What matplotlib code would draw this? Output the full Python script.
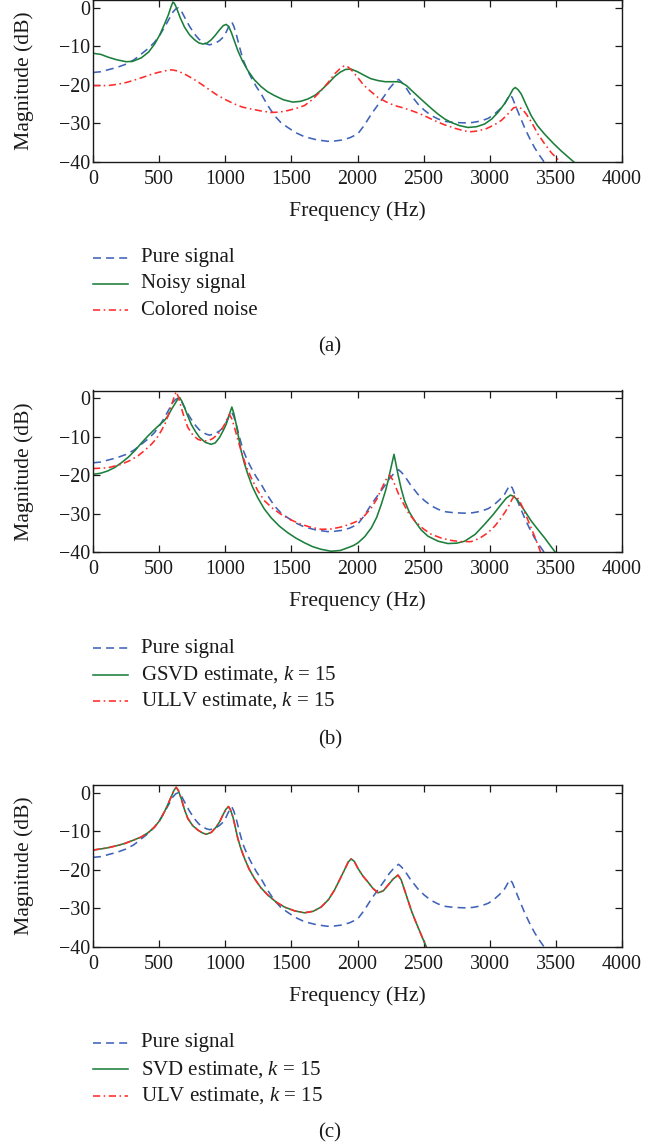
import matplotlib
matplotlib.use("Agg")
import matplotlib.pyplot as plt
from matplotlib.lines import Line2D

plt.rcParams['font.family'] = ['Liberation Serif', 'DejaVu Serif']
plt.rcParams['mathtext.fontset'] = 'custom'
plt.rcParams['mathtext.rm'] = 'Liberation Serif'
plt.rcParams['mathtext.it'] = 'Liberation Serif:italic'
plt.rcParams['axes.unicode_minus'] = True

# ---------------- data ----------------
pure_f = [0, 60, 113, 180, 252, 310, 365, 420, 466, 510, 554, 580, 604, 625, 645, 665, 692, 730,
          768, 800, 830, 860, 881, 920, 957, 985, 1007, 1030, 1050, 1065, 1083, 1105, 1133, 1165,
          1196, 1235, 1272, 1320, 1372, 1420, 1473, 1530, 1599, 1690, 1775, 1830, 1876, 1940, 2001,
          2050, 2105, 2155, 2205, 2240, 2270, 2310, 2330, 2356, 2400, 2457, 2505, 2558, 2610, 2658,
          2730, 2809, 2870, 2935, 2990, 3036, 3075, 3112, 3135, 3150, 3170, 3200, 3230, 3263, 3300,
          3338, 3375, 3414]
pure_db = [-16.8, -16.6, -16.1, -15.5, -14.6, -13.5, -12.0, -10.5, -8.9, -6.8, -4.2, -2.6, -1.1, -0.3, 0.0,
           -0.6, -2.4, -4.8, -6.8, -8.1, -8.9, -9.4, -9.6, -9.3, -8.5, -7.6, -6.3, -4.6, -3.7, -4.8, -6.8,
           -9.8, -13.3, -16.0, -18.1, -20.5, -22.4, -25.3, -28.0, -29.8, -31.1, -32.4, -33.5, -34.3, -34.7,
           -34.6, -34.4, -33.8, -32.8, -30.6, -27.6, -25.2, -22.8, -21.0, -19.8, -18.6, -19.2, -20.2, -22.5,
           -25.0, -26.6, -28.0, -28.9, -29.5, -29.8, -29.9, -29.8, -29.4, -28.7, -27.6, -26.4, -25.0, -23.6,
           -22.6, -23.3, -25.9, -28.4, -31.1, -33.8, -36.3, -38.3, -40.2]

noisy_f = [0, 60, 113, 180, 252, 300, 365, 420, 466, 505, 541, 570, 590, 604, 615, 629, 660, 692,
           730, 768, 800, 831, 860, 894, 925, 957, 985, 1007, 1025, 1045, 1070, 1095, 1130, 1171, 1220,
           1272, 1320, 1372, 1440, 1511, 1570, 1624, 1680, 1725, 1780, 1826, 1870, 1910, 1950, 2000,
           2054, 2100, 2155, 2210, 2256, 2300, 2331, 2370, 2407, 2460, 2508, 2560, 2608, 2660, 2709,
           2770, 2835, 2900, 2961, 3015, 3062, 3110, 3150, 3175, 3193, 3215, 3238, 3275, 3313, 3360,
           3414, 3480, 3540, 3590, 3640]
noisy_db = [-11.8, -12.1, -12.8, -13.5, -14.0, -13.9, -13.0, -11.5, -9.4, -7.0, -4.2, -1.8, 0.3, 1.5, 1.2,
            0.2, -2.6, -5.0, -7.0, -8.3, -9.1, -9.4, -9.2, -8.3, -7.1, -5.7, -4.6, -4.3, -4.8, -6.3, -8.7,
            -11.1, -13.8, -16.3, -18.7, -20.5, -21.8, -22.8, -23.9, -24.5, -24.3, -23.7, -22.7, -21.4,
            -19.6, -17.9, -16.7, -16.0, -15.9, -16.6, -17.6, -18.4, -18.9, -19.2, -19.2, -19.2, -19.4,
            -20.2, -21.4, -23.1, -24.6, -26.2, -27.6, -28.9, -29.8, -30.6, -31.1, -30.9, -30.2, -28.9,
            -27.2, -25.0, -22.8, -21.2, -20.7, -21.3, -22.4, -25.2, -28.0, -30.6, -32.8, -35.2, -37.2,
            -38.7, -40.2]

colored_f = [0, 113, 180, 252, 320, 390, 440, 491, 540, 592, 640, 692, 755, 818, 880, 944, 1010,
             1070, 1130, 1196, 1270, 1347, 1410, 1473, 1540, 1599, 1660, 1725, 1780, 1826, 1865, 1901,
             1930, 1960, 2004, 2040, 2079, 2120, 2155, 2220, 2281, 2345, 2407, 2470, 2533, 2595, 2658,
             2735, 2809, 2860, 2910, 2975, 3036, 3090, 3137, 3180, 3213, 3245, 3276, 3320, 3364, 3414,
             3464, 3500, 3540]
colored_db = [-20.2, -20.2, -19.9, -19.4, -18.7, -17.9, -17.3, -16.8, -16.4, -16.1, -16.4, -17.2, -18.4,
              -19.8, -21.3, -22.8, -24.0, -25.0, -25.8, -26.3, -26.8, -27.2, -27.1, -26.7, -26.1, -25.4,
              -23.8, -21.5, -19.3, -17.2, -15.9, -15.0, -15.4, -16.4, -18.2, -19.8, -21.1, -22.3, -23.3,
              -24.5, -25.4, -26.0, -26.7, -27.5, -28.5, -29.5, -30.4, -31.3, -32.0, -32.2, -32.0, -31.4,
              -30.4, -29.2, -27.6, -26.0, -25.7, -26.3, -27.6, -30.0, -32.8, -35.3, -37.6, -38.9, -40.2]

gsvd_f = [0, 60, 113, 165, 214, 265, 315, 365, 416, 460, 504, 540, 567, 595, 617, 638, 655, 672,
          692, 715, 743, 775, 806, 850, 894, 925, 957, 985, 1007, 1030, 1050, 1065, 1083, 1100, 1120,
          1145, 1171, 1205, 1246, 1295, 1347, 1410, 1473, 1535, 1599, 1660, 1725, 1800, 1870, 1926,
          1970, 2004, 2055, 2105, 2145, 2180, 2210, 2231, 2255, 2276, 2290, 2306, 2330, 2356, 2390,
          2432, 2480, 2533, 2610, 2684, 2750, 2810, 2890, 2961, 3025, 3087, 3125, 3157, 3185, 3213,
          3260, 3313, 3365, 3414, 3455, 3494]
gsvd_db = [-19.8, -19.5, -18.9, -18.0, -16.8, -15.4, -13.7, -11.7, -9.8, -8.3, -6.9, -5.8, -4.6, -2.8,
           -1.6, -0.4, 0.2, -0.8, -2.4, -4.5, -6.8, -8.7, -10.2, -11.5, -12.0, -11.6, -10.2, -8.4, -6.8,
           -4.3, -2.3, -4.0, -6.8, -10.0, -13.7, -17.0, -19.8, -23.0, -25.9, -28.8, -31.1, -33.3, -35.0,
           -36.4, -37.6, -38.6, -39.3, -39.8, -39.6, -38.9, -38.3, -37.6, -36.0, -33.7, -31.0, -27.6,
           -24.3, -21.5, -17.8, -14.6, -17.0, -19.8, -23.5, -26.7, -29.5, -31.9, -34.2, -35.9, -37.2,
           -37.8, -37.7, -37.2, -35.4, -32.8, -30.3, -27.6, -26.0, -25.2, -25.6, -26.7, -29.1, -31.9,
           -34.2, -36.3, -38.2, -40.0]

ullv_f = [0, 113, 214, 280, 340, 390, 441, 480, 516, 545, 567, 588, 604, 618, 629, 645, 667, 690,
          717, 755, 793, 830, 869, 905, 944, 972, 995, 1015, 1032, 1050, 1070, 1095, 1120, 1155, 1196,
          1245, 1297, 1360, 1422, 1500, 1574, 1650, 1725, 1800, 1876, 1940, 2004, 2055, 2105, 2145,
          2180, 2215, 2243, 2262, 2281, 2310, 2344, 2385, 2432, 2495, 2558, 2635, 2709, 2785, 2860,
          2925, 2986, 3040, 3087, 3120, 3150, 3170, 3188, 3210, 3238, 3275, 3313, 3350, 3384]
ullv_db = [-18.3, -18.1, -17.2, -16.2, -15.0, -13.6, -12.0, -10.5, -8.5, -6.6, -4.6, -2.3, -0.7, 0.8, 1.7,
           0.4, -2.4, -5.0, -7.6, -9.6, -10.7, -11.1, -11.1, -10.5, -9.4, -8.2, -6.8, -5.3, -4.2, -5.4,
           -7.6, -10.8, -13.7, -17.4, -20.7, -24.0, -26.7, -28.7, -30.2, -31.7, -32.8, -33.6, -34.1,
           -34.0, -33.5, -32.8, -31.9, -30.5, -28.5, -26.3, -23.7, -21.2, -20.0, -21.0, -22.4, -24.9,
           -27.2, -29.8, -31.9, -33.9, -35.4, -36.4, -37.0, -37.3, -37.3, -36.4, -35.0, -33.2, -31.1,
           -29.4, -27.6, -26.2, -25.4, -25.9, -27.6, -30.6, -33.7, -36.9, -40.0]

svd_f = [0, 60, 113, 175, 239, 300, 365, 420, 466, 505, 541, 568, 592, 612, 629, 645, 667, 690,
         717, 755, 793, 825, 856, 895, 932, 960, 982, 1005, 1025, 1040, 1058, 1075, 1095, 1120, 1146,
         1180, 1221, 1270, 1322, 1385, 1448, 1525, 1599, 1665, 1725, 1780, 1826, 1865, 1901, 1930,
         1952, 1975, 2004, 2040, 2079, 2115, 2155, 2195, 2231, 2270, 2306, 2330, 2356, 2380, 2407,
         2432, 2457, 2490, 2520]
svd_db = [-14.9, -14.6, -14.3, -13.8, -13.2, -12.4, -11.5, -10.3, -8.9, -7.2, -4.9, -2.9, -1.0, 0.6, 1.4,
          0.6, -1.5, -4.2, -6.7, -8.6, -9.7, -10.4, -10.8, -10.3, -8.9, -7.4, -5.8, -4.3, -3.6, -4.5,
          -6.3, -8.8, -11.9, -14.7, -17.1, -19.8, -22.3, -24.7, -26.6, -28.4, -29.7, -30.7, -31.2, -30.8,
          -29.7, -27.8, -25.3, -22.6, -20.1, -18.0, -17.2, -17.8, -19.7, -21.6, -23.2, -24.8, -26.0,
          -25.5, -24.0, -22.4, -21.4, -22.6, -25.3, -27.8, -30.6, -32.8, -34.9, -37.6, -40.0]

ulv_f = [0, 60, 113, 175, 239, 300, 365, 420, 466, 505, 541, 568, 592, 612, 629, 645, 667, 690,
         717, 755, 793, 825, 856, 895, 932, 960, 982, 1005, 1025, 1040, 1058, 1075, 1095, 1120, 1146,
         1180, 1221, 1270, 1322, 1385, 1448, 1525, 1599, 1665, 1725, 1780, 1826, 1865, 1901, 1930,
         1952, 1975, 2004, 2040, 2079, 2115, 2155, 2195, 2231, 2270, 2306, 2330, 2356, 2380, 2407,
         2432, 2457, 2490, 2520]
ulv_db = [-14.9, -14.6, -14.3, -13.8, -13.2, -12.4, -11.5, -10.3, -8.9, -7.2, -4.9, -2.9, -1.0, 0.6, 1.4,
          0.6, -1.5, -4.2, -6.7, -8.6, -9.7, -10.4, -10.8, -10.3, -8.9, -7.4, -5.8, -4.3, -3.6, -4.5,
          -6.3, -8.8, -11.9, -14.7, -17.1, -19.8, -22.3, -24.7, -26.6, -28.4, -29.7, -30.7, -31.2, -30.8,
          -29.7, -27.8, -25.3, -22.6, -20.1, -18.0, -17.2, -17.8, -19.7, -21.6, -23.2, -24.8, -26.0,
          -25.5, -24.0, -22.4, -21.4, -22.6, -25.3, -27.8, -30.6, -32.8, -34.9, -37.6, -40.0]

x_ticks = [0, 500, 1000, 1500, 2000, 2500, 3000, 3500, 4000]
y_ticks = [-40, -30, -20, -10, 0]
labels_a = ["Pure signal", "Noisy signal", "Colored noise"]
labels_b = ["Pure signal", "GSVD estimate, $k$ = 15", "ULLV estimate, $k$ = 15"]
labels_c = ["Pure signal", "SVD estimate, $k$ = 15", "ULV estimate, $k$ = 15"]
captions = ["(a)", "(b)", "(c)"]

# ---------------- styles ----------------
W, H = 670, 1147
BLUE = "#3f63b8"
GREEN = "#1b7f3b"
RED = "#ff2a2a"
INK = "#1a1a1a"
LW = 1.15
DASH = (0, (5.0, 3.2))
DASHDOT = (0, (4.5, 2.2, 1.0, 2.2))
TICK_FS = 14.4
LABEL_FS = 15.6
LEG_FS = 15.0

fig = plt.figure(figsize=(W / 100, H / 100), dpi=100)


def px_rect(left, top, right, bottom):
    return [left / W, 1 - bottom / H, (right - left) / W, (bottom - top) / H]


def style_axes(ax):
    ax.set_xlim(0, 4000)
    ax.set_ylim(-40, 2)
    ax.set_xticks(x_ticks)
    ax.set_yticks(y_ticks)
    ax.tick_params(direction="in", length=5, width=0.9, top=True, right=True,
                   labelsize=TICK_FS, colors=INK)
    ax.tick_params(axis="x", pad=6)
    ax.tick_params(axis="y", pad=2)
    for s in ax.spines.values():
        s.set_linewidth(1.0)
        s.set_color(INK)
    ax.set_xlabel("Frequency (Hz)", fontsize=LABEL_FS, color=INK)
    ax.xaxis.set_label_coords(0.5, -0.245)
    ax.set_ylabel("Magnitude (dB)", fontsize=LABEL_FS, color=INK)
    ax.yaxis.set_label_coords(-0.112, 0.5)


def legend_block(top_y, labels, styles):
    for i, (lab, (col, ls)) in enumerate(zip(labels, styles)):
        y = top_y + i * 26.3
        fig.add_artist(Line2D([93 / W, 128 / W], [1 - y / H, 1 - y / H], color=col,
                              lw=LW, linestyle=ls, transform=fig.transFigure))
        fig.text(141 / W, 1 - y / H, lab, fontsize=LEG_FS, va="center", ha="left",
                 color=INK)


panels = [
    (px_rect(93, 0.2, 622, 161.7),
     [(pure_f, pure_db, BLUE, DASH), (noisy_f, noisy_db, GREEN, "-"),
      (colored_f, colored_db, RED, DASHDOT)], labels_a, 257.7, 346.7),
    (px_rect(93, 390.5, 622, 552.0),
     [(pure_f, pure_db, BLUE, DASH), (gsvd_f, gsvd_db, GREEN, "-"),
      (ullv_f, ullv_db, RED, DASHDOT)], labels_b, 648.3, 740.0),
    (px_rect(93, 785.0, 622, 946.7),
     [(pure_f, pure_db, BLUE, DASH), (svd_f, svd_db, GREEN, "-"),
      (ulv_f, ulv_db, RED, DASHDOT)], labels_c, 1043.0, 1133.0),
]

for k, (rect, series, labels, leg_y, cap_y) in enumerate(panels):
    ax = fig.add_axes(rect)
    for f, db, col, ls in series:
        ax.plot(f, db, color=col, lw=LW, linestyle=ls)
    style_axes(ax)
    legend_block(leg_y, labels, [(c, l) for _, _, c, l in series])
    fig.text(330 / W, 1 - cap_y / H, captions[k], fontsize=LEG_FS, ha="center", va="center",
             color=INK)

fig.savefig("out.png", dpi=100)
